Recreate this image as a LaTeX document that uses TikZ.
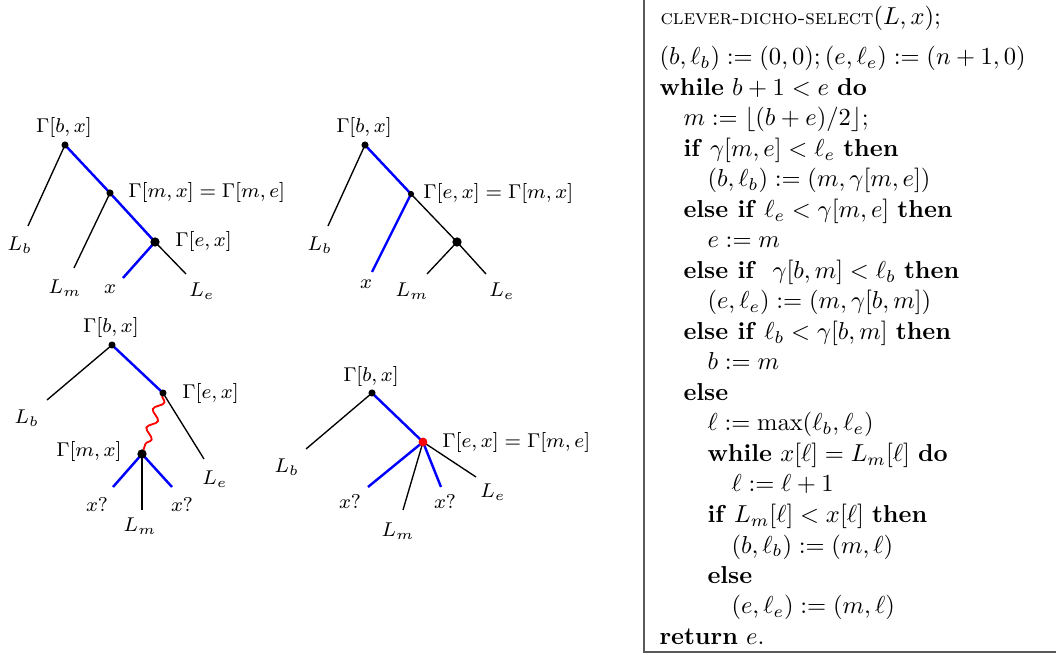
\RequirePackage{fix-cm}
\documentclass[tikz,border=0pt]{standalone}
\usepackage{amsmath}
\usetikzlibrary{decorations.pathmorphing}
\tikzset{
  bk/.style={line width=0.55pt, black},
  bl/.style={line width=1.0pt, blue},
  wav/.style={line width=0.75pt, red, decorate, decoration={snake, amplitude=1.8pt, segment length=8pt, pre length=1pt, post length=1pt}},
  dot/.style={circle, fill=black, inner sep=0pt, minimum size=2.9pt},
  sdot/.style={circle, fill=black, inner sep=0pt, minimum size=2.5pt},
  bdot/.style={circle, fill=black, inner sep=0pt, minimum size=3.8pt},
  rdot/.style={circle, fill=red, inner sep=0pt, minimum size=3.6pt},
  lab/.style={inner sep=0pt, font=\fontsize{8.15}{10}\selectfont},
  alg/.style={anchor=base west, inner sep=0pt, font=\fontsize{10}{12}\selectfont},
  frame/.style={line width=0.8pt, black!65}
}
\begin{document}
\begin{tikzpicture}[x=0.408pt,y=-0.408pt]
\useasboundingbox (0,0) rectangle (1056,655);

% ---------- Tree 1 ----------
\coordinate (a1r) at (65,145);
\coordinate (a1m) at (110,193);
\coordinate (a1e) at (155,242);
\coordinate (a1lb) at (28,226);
\coordinate (a1lm) at (74,268);
\coordinate (a1x) at (123,278);
\coordinate (a1le) at (186,274);
\draw[bk] (a1r) -- (a1lb);
\draw[bk] (a1m) -- (a1lm);
\draw[bk] (a1e) -- (a1le);
\draw[bl] (a1r) -- (a1m) -- (a1e) -- (a1x);
\node[dot] (d1r) at (a1r) {};
\node[dot] (d1m) at (a1m) {};
\node[bdot] (d1e) at (a1e) {};
\node[lab] (t1r) at (64,128) {$\Gamma[b,x]$};
\node[lab, anchor=west] (t1m) at (128,193) {$\Gamma[m,x]=\Gamma[m,e]$};
\node[lab, anchor=west] (t1e) at (175,242) {$\Gamma[e,x]$};
\node[lab] (t1lb) at (20,245) {$L_b$};
\node[lab] (t1lm) at (65,288) {$L_m$};
\node[lab] (t1x) at (110,289) {$x$};
\node[lab] (t1le) at (202,291) {$L_e$};

% ---------- Tree 2 ----------
\coordinate (a2r) at (365,145);
\coordinate (a2m) at (411,194);
\coordinate (a2e) at (457,242);
\coordinate (a2lb) at (328,226);
\coordinate (a2x) at (372,272);
\coordinate (a2lm) at (427,274);
\coordinate (a2le) at (486,274);
\draw[bk] (a2r) -- (a2lb);
\draw[bk] (a2m) -- (a2e);
\draw[bk] (a2e) -- (a2lm);
\draw[bk] (a2e) -- (a2le);
\draw[bl] (a2r) -- (a2m) -- (a2x);
\node[dot] (d2r) at (a2r) {};
\node[sdot] (d2m) at (a2m) {};
\node[bdot] (d2e) at (a2e) {};
\node[lab] (t2r) at (364,128) {$\Gamma[b,x]$};
\node[lab, anchor=west] (t2m) at (423,194) {$\Gamma[e,x]=\Gamma[m,x]$};
\node[lab] (t2lb) at (320,245) {$L_b$};
\node[lab] (t2x) at (366,284) {$x$};
\node[lab] (t2lm) at (412,291) {$L_m$};
\node[lab] (t2le) at (502,291) {$L_e$};

% ---------- Tree 3 ----------
\coordinate (a3r) at (112,345);
\coordinate (a3e) at (163,393);
\coordinate (a3m) at (142,454);
\coordinate (a3lb) at (47,400);
\coordinate (a3le) at (204,459);
\coordinate (a3x1) at (113,487);
\coordinate (a3lm) at (142,510);
\coordinate (a3x2) at (172,487);
\draw[bk] (a3r) -- (a3lb);
\draw[bk] (a3e) -- (a3le);
\draw[bk] (a3m) -- (a3lm);
\draw[bl] (a3r) -- (a3e);
\draw[bl] (a3m) -- (a3x1);
\draw[bl] (a3m) -- (a3x2);
\draw[wav] (a3e) -- (a3m);
\node[dot] (d3r) at (a3r) {};
\node[dot] (d3e) at (a3e) {};
\node[bdot] (d3m) at (a3m) {};
\node[lab] (t3r) at (111,328) {$\Gamma[b,x]$};
\node[lab, anchor=west] (t3e) at (182,394) {$\Gamma[e,x]$};
\node[lab, anchor=east] (t3m) at (122,452) {$\Gamma[m,x]$};
\node[lab] (t3lb) at (27,418) {$L_b$};
\node[lab] (t3le) at (215,479) {$L_e$};
\node[lab] (t3x1) at (97,505) {$x?$};
\node[lab] (t3lm) at (140,526) {$L_m$};
\node[lab] (t3x2) at (182,505) {$x?$};

% ---------- Tree 4 ----------
\coordinate (a4r) at (372,393);
\coordinate (a4e) at (423,442);
\coordinate (a4lb) at (306,449);
\coordinate (a4x1) at (368,487);
\coordinate (a4lm) at (403,510);
\coordinate (a4x2) at (441,487);
\coordinate (a4le) at (476,477);
\draw[bk] (a4r) -- (a4lb);
\draw[bk] (a4e) -- (a4lm);
\draw[bk] (a4e) -- (a4le);
\draw[bl] (a4r) -- (a4e);
\draw[bl] (a4e) -- (a4x1);
\draw[bl] (a4e) -- (a4x2);
\node[dot] (d4r) at (a4r) {};
\node[rdot] (d4e) at (a4e) {};
\node[lab] (t4r) at (371,377) {$\Gamma[b,x]$};
\node[lab, anchor=west] (t4e) at (442,443) {$\Gamma[e,x]=\Gamma[m,e]$};
\node[lab] (t4lb) at (287,467) {$L_b$};
\node[lab] (t4x1) at (350,502) {$x?$};
\node[lab] (t4lm) at (398,531) {$L_m$};
\node[lab] (t4x2) at (445,502) {$x?$};
\node[lab] (t4le) at (493,492) {$L_e$};

% ---------- Algorithm ----------
\coordinate (fa) at (644,0);
\coordinate (fb) at (644,652);
\coordinate (fc) at (1056,652);
\draw[frame] (fa) -- (fb) -- (fc);

\node[alg] (l0) at (660,25) {{\fontsize{8.5}{11}\selectfont\textsc{clever-dicho-select}}$(L,x)$;};
\node[alg] (l1) at (659,65) {$(b,\ell_b) := (0,0); (e,\ell_e) := (n+1,0)$};
\node[alg] (l2) at (659,95.5) {\textbf{while} $b+1<e$ \textbf{do}};
\node[alg] (l3) at (683,126) {$m := \lfloor (b+e)/2\rfloor$;};
\node[alg] (l4) at (683,156.5) {\textbf{if} $\gamma[m,e]<\ell_e$ \textbf{then}};
\node[alg] (l5) at (707,187) {$(b,\ell_b) := (m,\gamma[m,e])$};
\node[alg] (l6) at (683,217.5) {\textbf{else if} $\ell_e<\gamma[m,e]$ \textbf{then}};
\node[alg] (l7) at (707,248) {$e := m$};
\node[alg] (l8) at (683,278.5) {\textbf{else if}\ \ $\gamma[b,m]<\ell_b$ \textbf{then}};
\node[alg] (l9) at (707,309) {$(e,\ell_e) := (m,\gamma[b,m])$};
\node[alg] (l10) at (683,339.5) {\textbf{else if} $\ell_b<\gamma[b,m]$ \textbf{then}};
\node[alg] (l11) at (707,370) {$b := m$};
\node[alg] (l12) at (683,400.5) {\textbf{else}};
\node[alg] (l13) at (707,431) {$\ell := \max(\ell_b,\ell_e)$};
\node[alg] (l14) at (707,461.5) {\textbf{while} $x[\ell]=L_m[\ell]$ \textbf{do}};
\node[alg] (l15) at (731,492) {$\ell := \ell+1$};
\node[alg] (l16) at (707,522.5) {\textbf{if} $L_m[\ell]<x[\ell]$ \textbf{then}};
\node[alg] (l17) at (731,553) {$(b,\ell_b) := (m,\ell)$};
\node[alg] (l18) at (707,583.5) {\textbf{else}};
\node[alg] (l19) at (731,614) {$(e,\ell_e) := (m,\ell)$};
\node[alg] (l20) at (659,644.5) {\textbf{return} $e$.};
\end{tikzpicture}
\end{document}
